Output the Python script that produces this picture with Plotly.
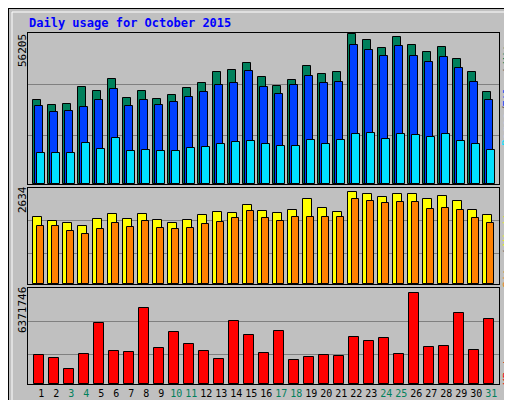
import plotly.graph_objects as go

days = list(range(1, 32))
weekend = [3, 4, 10, 11, 17, 18, 24, 25, 31]
hits = [31475, 29601, 29976, 36346, 34847, 39344, 32224, 34847, 31850, 33348, 35971, 37845, 41966, 42716, 45339, 40093,
        36721, 38969, 44215, 41217, 41966, 56205, 53957, 50959, 55081, 52084, 49460, 51334, 46838, 41966, 34473]
files = [29227, 26978, 27353, 28852, 31475, 35597, 29227, 31475, 29601, 30725, 32599, 34473, 37095, 37845, 42341, 36346,
         33723, 37095, 40468, 37845, 38219, 52083, 50210, 47962, 51709, 47962, 45713, 47587, 43465, 38219, 31475]
pages = [11616, 11616, 11616, 15363, 13115, 17236, 12365, 12740, 12365, 12365, 13489, 13864, 14988, 15737, 16112, 14988,
         14239, 14239, 16487, 14988, 16487, 18735, 19110, 16862, 18735, 18360, 17611, 18735, 16112, 14988, 12740]
visits = [1918, 1804, 1746, 1661, 1861, 2004, 1861, 2004, 1832, 1746, 1832, 1975, 2061, 2033, 2262, 2090,
          2033, 2119, 2433, 2176, 2061, 2634, 2577, 2491, 2577, 2577, 2433, 2519, 2376, 2119, 1975]
sites = [1661, 1661, 1517, 1432, 1575, 1746, 1632, 1804, 1603, 1575, 1603, 1718, 1775, 1890, 2090, 1890,
         1804, 1918, 1918, 1918, 1918, 2434, 2376, 2319, 2348, 2348, 2147, 2176, 2119, 1890, 1746]
kbytes = [2030551, 1820494, 1050285, 2100570, 4271159, 2310627, 2240608, 5321444, 2520684, 3640988, 2800760,
          2310627, 1750475, 4411197, 3430931, 2170589, 3711007, 1680456, 1890513, 2030551, 1960532, 3290893,
          3010817, 3220874, 2100570, 6371746, 2590703, 2660722, 4971349, 2380646, 4551235]

C_HITS, C_FILES, C_PAGES = "#00805c", "#0040ff", "#00e0ff"
C_VISITS, C_SITES, C_KB = "#ffff00", "#ff8000", "#ff0000"
MONO = "DejaVu Sans Mono"

fig = go.Figure()
line = dict(color="black", width=1)
def bar(y, color, off, w, xa, ya):
    fig.add_trace(go.Bar(x=days, y=y, offset=off, width=w, marker=dict(color=color, line=line),
                         xaxis=xa, yaxis=ya, showlegend=False, hoverinfo="skip"))

bar(hits, C_HITS, -0.533, 0.49, "x", "y")
bar(files, C_FILES, -0.40, 0.49, "x", "y")
bar(pages, C_PAGES, -0.267, 0.49, "x", "y")
bar(visits, C_VISITS, -0.533, 0.55, "x2", "y2")
bar(sites, C_SITES, -0.267, 0.47, "x2", "y2")
bar(kbytes, C_KB, -0.467, 0.67, "x3", "y3")

xr = [0.113, 31.51]
xdom = [20 / 512, 491 / 512]
ticktext = [f'<span style="color:{C_HITS if d in weekend else "black"}">{d}</span>' for d in days]
def xax(anchor, show):
    return dict(domain=xdom, range=xr, anchor=anchor, showgrid=False, zeroline=False,
                showline=True, mirror=True, linecolor="black", linewidth=1,
                tickmode="array", tickvals=days, ticktext=ticktext, ticks="", tickangle=0,
                showticklabels=show, tickfont=dict(family=MONO, size=10, color="black"))
def yax(dom, rng, grids, anchor):
    return dict(domain=dom, range=rng, anchor=anchor, tickmode="array", tickvals=grids,
                showticklabels=False, showgrid=True, gridcolor="#808080", gridwidth=1,
                zeroline=False, showline=True, mirror=True, linecolor="black", linewidth=1)

fig.update_layout(
    width=512, height=400, margin=dict(l=0, r=0, t=0, b=0),
    paper_bgcolor="#c0c0c0", plot_bgcolor="#c0c0c0", barmode="overlay", bargap=0,
    xaxis=xax("y", False), xaxis2=xax("y2", False), xaxis3=xax("y3", True),
    yaxis=yax([1 - 176 / 400, 1 - 25 / 400], [0, 56580], [18360, 37470], "x"),
    yaxis2=yax([1 - 276 / 400, 1 - 180 / 400], [0, 2748], [859, 1804], "x2"),
    yaxis3=yax([1 - 376 / 400, 1 - 280 / 400], [0, 6721824], [2100570, 4411197], "x3"),
)

shapes = [
    dict(type="rect", xref="paper", yref="paper", x0=0, x1=1, y0=0, y1=1, line=dict(color="black", width=2)),
    dict(type="line", xref="paper", yref="paper", x0=4 / 512, x1=508 / 512, y0=1 - 4 / 400, y1=1 - 4 / 400, line=dict(color="white", width=1)),
    dict(type="line", xref="paper", yref="paper", x0=4 / 512, x1=4 / 512, y0=4 / 400, y1=1 - 4 / 400, line=dict(color="white", width=1)),
    dict(type="line", xref="paper", yref="paper", x0=4 / 512, x1=508 / 512, y0=4 / 400, y1=4 / 400, line=dict(color="#808080", width=1)),
    dict(type="line", xref="paper", yref="paper", x0=508 / 512, x1=508 / 512, y0=4 / 400, y1=1 - 4 / 400, line=dict(color="#808080", width=1)),
]
fig.update_layout(shapes=shapes)

def ann(text, x, y, color="black", angle=0, xanchor="center", yanchor="middle", size=11, bold=False):
    fig.add_annotation(text=f"<b>{text}</b>" if bold else text, x=x / 512, y=1 - y / 400,
                       xref="paper", yref="paper", showarrow=False, textangle=angle,
                       xanchor=xanchor, yanchor=yanchor, font=dict(family=MONO, size=size, color=color))

ann("Daily usage for October 2015", 19, 15, "#0000ff", xanchor="left", size=12, bold=True)
ann("56205", 14, 43, angle=-90, size=11)
ann("2634", 14, 192, angle=-90, size=11)
ann("6371746", 14, 302, angle=-90, size=11)
GR = "#606060"
for txt, yc, col in [("Hits", 43, C_HITS), ("/", 64, GR), ("Files", 83, C_FILES), ("/", 101, GR),
                     ("Pages", 122, C_PAGES), ("Visits", 218, C_VISITS), ("/", 245, GR),
                     ("Sites", 264, C_SITES), ("KBytes", 357, C_KB)]:
    ann(txt, 499, yc, col, angle=-90, size=11)

fig.write_html("out.html")
